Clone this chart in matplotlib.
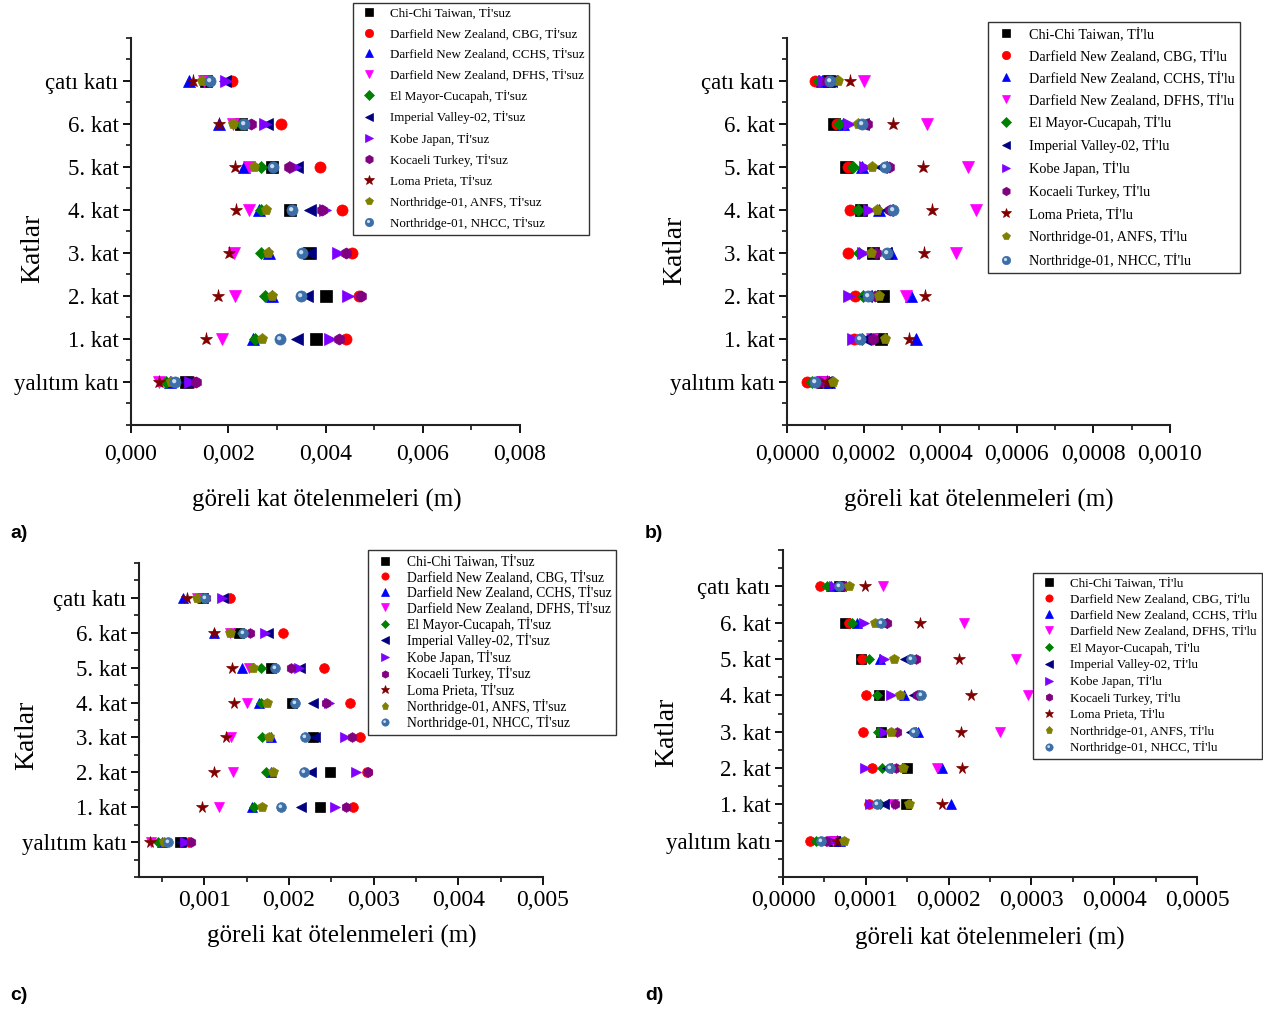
import matplotlib
matplotlib.use('Agg')
import matplotlib.pyplot as plt
from matplotlib.ticker import MultipleLocator, FuncFormatter
from matplotlib.markers import MarkerStyle
from matplotlib.transforms import Affine2D

W, H = 1263, 1013

# Katlar (alttan üste)
floors = ["yalıtım katı", "1. kat", "2. kat", "3. kat", "4. kat", "5. kat", "6. kat", "çatı katı"]

# Deprem kayıtları
records = ["Chi-Chi Taiwan", "Darfield New Zealand, CBG", "Darfield New Zealand, CCHS",
           "Darfield New Zealand, DFHS", "El Mayor-Cucapah", "Imperial Valley-02",
           "Kobe Japan", "Kocaeli Turkey", "Loma Prieta", "Northridge-01, ANFS",
           "Northridge-01, NHCC"]

# a) Tİ'suz, göreli kat ötelenmeleri (m)
drift_a = [
    [0.00113, 0.00380, 0.00400, 0.00366, 0.00326, 0.00289, 0.00227, 0.00155],
    [0.00128, 0.00442, 0.00468, 0.00455, 0.00434, 0.00388, 0.00308, 0.00207],
    [0.00080, 0.00250, 0.00289, 0.00283, 0.00264, 0.00232, 0.00180, 0.00120],
    [0.00058, 0.00188, 0.00214, 0.00211, 0.00242, 0.00243, 0.00210, 0.00150],
    [0.00072, 0.00256, 0.00276, 0.00268, 0.00268, 0.00268, 0.00227, 0.00160],
    [0.00116, 0.00341, 0.00362, 0.00369, 0.00369, 0.00341, 0.00279, 0.00194],
    [0.00121, 0.00409, 0.00446, 0.00426, 0.00399, 0.00338, 0.00275, 0.00195],
    [0.00134, 0.00428, 0.00472, 0.00442, 0.00392, 0.00324, 0.00246, 0.00160],
    [0.00057, 0.00154, 0.00178, 0.00202, 0.00215, 0.00213, 0.00180, 0.00128],
    [0.00083, 0.00269, 0.00289, 0.00281, 0.00277, 0.00252, 0.00210, 0.00147],
    [0.00090, 0.00306, 0.00349, 0.00351, 0.00331, 0.00292, 0.00233, 0.00163],
]

# b) Tİ'lu
drift_b = [
    [0.000095, 0.000245, 0.000251, 0.000225, 0.000193, 0.000154, 0.000123, 0.000110],
    [0.000052, 0.000175, 0.000178, 0.000160, 0.000165, 0.000160, 0.000131, 0.000073],
    [0.000110, 0.000337, 0.000324, 0.000271, 0.000241, 0.000196, 0.000147, 0.000091],
    [0.000093, 0.000222, 0.000311, 0.000440, 0.000494, 0.000472, 0.000366, 0.000202],
    [0.000065, 0.000196, 0.000199, 0.000188, 0.000186, 0.000173, 0.000136, 0.000084],
    [0.000101, 0.000204, 0.000205, 0.000258, 0.000262, 0.000245, 0.000198, 0.000115],
    [0.000091, 0.000173, 0.000162, 0.000199, 0.000215, 0.000204, 0.000162, 0.000097],
    [0.000084, 0.000225, 0.000230, 0.000232, 0.000270, 0.000267, 0.000210, 0.000105],
    [0.000105, 0.000319, 0.000361, 0.000359, 0.000379, 0.000354, 0.000277, 0.000164],
    [0.000120, 0.000257, 0.000241, 0.000220, 0.000235, 0.000223, 0.000186, 0.000132],
    [0.000073, 0.000191, 0.000212, 0.000262, 0.000277, 0.000257, 0.000196, 0.000112],
]

# c) Tİ'suz
drift_c = [
    [0.00071, 0.00237, 0.00249, 0.00228, 0.00204, 0.00179, 0.00141, 0.00098],
    [0.00082, 0.00276, 0.00292, 0.00284, 0.00272, 0.00242, 0.00193, 0.00130],
    [0.00050, 0.00156, 0.00179, 0.00179, 0.00165, 0.00145, 0.00112, 0.00075],
    [0.00037, 0.00117, 0.00134, 0.00132, 0.00151, 0.00153, 0.00130, 0.00092],
    [0.00045, 0.00159, 0.00173, 0.00168, 0.00167, 0.00167, 0.00145, 0.00098],
    [0.00073, 0.00214, 0.00226, 0.00231, 0.00229, 0.00213, 0.00175, 0.00122],
    [0.00077, 0.00255, 0.00279, 0.00266, 0.00247, 0.00212, 0.00172, 0.00121],
    [0.00084, 0.00267, 0.00293, 0.00275, 0.00244, 0.00202, 0.00154, 0.00102],
    [0.00036, 0.00097, 0.00112, 0.00126, 0.00135, 0.00133, 0.00112, 0.00080],
    [0.00053, 0.00168, 0.00181, 0.00176, 0.00174, 0.00158, 0.00130, 0.00092],
    [0.00057, 0.00191, 0.00218, 0.00219, 0.00207, 0.00184, 0.00146, 0.00101],
]

# d) Tİ'lu
drift_d = [
    [0.000061, 0.000149, 0.000150, 0.000118, 0.000116, 0.000094, 0.000075, 0.000068],
    [0.000033, 0.000104, 0.000107, 0.000097, 0.000100, 0.000095, 0.000080, 0.000045],
    [0.000069, 0.000203, 0.000192, 0.000163, 0.000146, 0.000117, 0.000089, 0.000058],
    [0.000060, 0.000133, 0.000186, 0.000262, 0.000296, 0.000282, 0.000219, 0.000121],
    [0.000040, 0.000117, 0.000119, 0.000115, 0.000113, 0.000104, 0.000083, 0.000053],
    [0.000063, 0.000122, 0.000125, 0.000155, 0.000158, 0.000147, 0.000120, 0.000070],
    [0.000059, 0.000105, 0.000099, 0.000122, 0.000130, 0.000122, 0.000098, 0.000061],
    [0.000052, 0.000135, 0.000137, 0.000138, 0.000162, 0.000161, 0.000126, 0.000074],
    [0.000065, 0.000192, 0.000216, 0.000215, 0.000227, 0.000213, 0.000166, 0.000099],
    [0.000074, 0.000152, 0.000145, 0.000131, 0.000141, 0.000134, 0.000111, 0.000080],
    [0.000046, 0.000114, 0.000129, 0.000158, 0.000167, 0.000154, 0.000118, 0.000068],
]

markers = ['s', 'o', '^', 'v', 'D', '<', '>', 'h', '*', 'p', 'o']
colors = ['#000000', '#FF0000', '#0000FF', '#FF00FF', '#008000', '#000080',
          '#8000FF', '#800080', '#800000', '#808000', '#3C6EA8']

plt.rcParams['font.family'] = ['Liberation Serif', 'DejaVu Serif']

fig = plt.figure(figsize=(W / 100, H / 100), dpi=100)


def px_rect(l, t, r, b):
    return [l / W, 1 - b / H, (r - l) / W, (b - t) / H]


def fpos(x, y):
    return (x / W, 1 - y / H)


panels = [
    # veri, sonek, eksen kutusu, xlim, major, minor, ondalık, lejant konumu, lejant yazı boyu,
    # satır aralığı, xlabel, ylabel, harf, marker boyu, x etiket boşluğu
    (drift_a, "Tİ'suz", (131, 38, 520, 425), (0, 0.008), 0.002, 0.001, 3,
     (353, 3), 9.4, 0.63, (327, 500), (33, 248), (10, 533), 8, 8),
    (drift_b, "Tİ'lu", (787, 38, 1170, 425), (0, 0.001), 0.0002, 0.0001, 4,
     (988, 22), 10.3, 0.57, (979, 500), (675, 250), (645, 533), 8, 8),
    (drift_c, "Tİ'suz", (139, 563, 543, 877), (0.00023, 0.005), 0.001, 0.0005, 3,
     (368, 550), 9.8, 0.12, (342, 936), (27, 735), (10, 995), 7, 3),
    (drift_d, "Tİ'lu", (783, 550, 1197, 877), (0, 0.0005), 0.0001, 0.00005, 4,
     (1033, 573), 9.4, 0.28, (990, 938), (667, 732), (645, 995), 7, 3),
]

ypos = list(range(len(floors)))
shine = MarkerStyle('o', transform=Affine2D().scale(0.38).translate(-0.12, 0.12))

for k, (data, suffix, box, xlim, major, minor, dec, leg_xy, lfs, lsp,
        xl_xy, yl_xy, let_xy, ms, xpad) in enumerate(panels):
    ax = fig.add_axes(px_rect(*box))
    handles = []
    for i, name in enumerate(records):
        size = ms - 1.5 if markers[i] == 'D' else (ms + 1.5 if markers[i] == '*' else ms)
        h, = ax.plot(data[i], ypos, linestyle='none', marker=markers[i], color=colors[i],
                     markersize=size, markeredgewidth=0.5)
        if i == len(records) - 1:
            h2, = ax.plot(data[i], ypos, linestyle='none', marker=shine, color='#C8DCF0',
                          markersize=ms, markeredgewidth=0)
            handles.append((h, h2))
        else:
            handles.append(h)

    ax.set_xlim(*xlim)
    ax.set_ylim(-1, 8)
    ax.set_yticks(ypos)
    ax.set_yticklabels(floors)
    ax.yaxis.set_minor_locator(MultipleLocator(0.5))
    ax.xaxis.set_major_locator(MultipleLocator(major))
    ax.xaxis.set_minor_locator(MultipleLocator(minor))
    ax.xaxis.set_major_formatter(FuncFormatter(lambda v, p, d=dec: f"{v:.{d}f}".replace('.', ',')))

    for s in ['top', 'right']:
        ax.spines[s].set_visible(False)
    for s in ['left', 'bottom']:
        ax.spines[s].set_linewidth(1.5)
        ax.spines[s].set_color('#222222')
    ax.tick_params(which='major', direction='out', length=6, width=1.3, labelsize=17, pad=3)
    ax.tick_params(which='minor', direction='out', length=3.5, width=1.1)
    ax.tick_params(axis='y', which='major', labelsize=16.5)
    ax.tick_params(axis='x', which='major', pad=xpad)

    ax.set_xlabel("göreli kat ötelenmeleri (m)", fontsize=18, va='center', ha='center')
    ax.xaxis.set_label_coords(*fpos(*xl_xy), transform=fig.transFigure)
    ax.set_ylabel("Katlar", fontsize=20, va='center', ha='center')
    ax.yaxis.set_label_coords(*fpos(*yl_xy), transform=fig.transFigure)

    leg = ax.legend(handles, [f"{r}, {suffix}" for r in records],
                    loc='upper left', bbox_to_anchor=fpos(*leg_xy),
                    bbox_transform=fig.transFigure, borderaxespad=0,
                    fontsize=lfs, labelspacing=lsp, handletextpad=0.7,
                    handlelength=1.8, borderpad=0.35, markerscale=0.75,
                    fancybox=False, edgecolor='#333333', framealpha=1)
    leg.get_frame().set_linewidth(1.0)

    fig.text(*fpos(*let_xy), "abcd"[k] + ")", family='Liberation Sans',
             fontweight='bold', fontsize=14, va='center', ha='left')

fig.savefig('out.png', dpi=100)
